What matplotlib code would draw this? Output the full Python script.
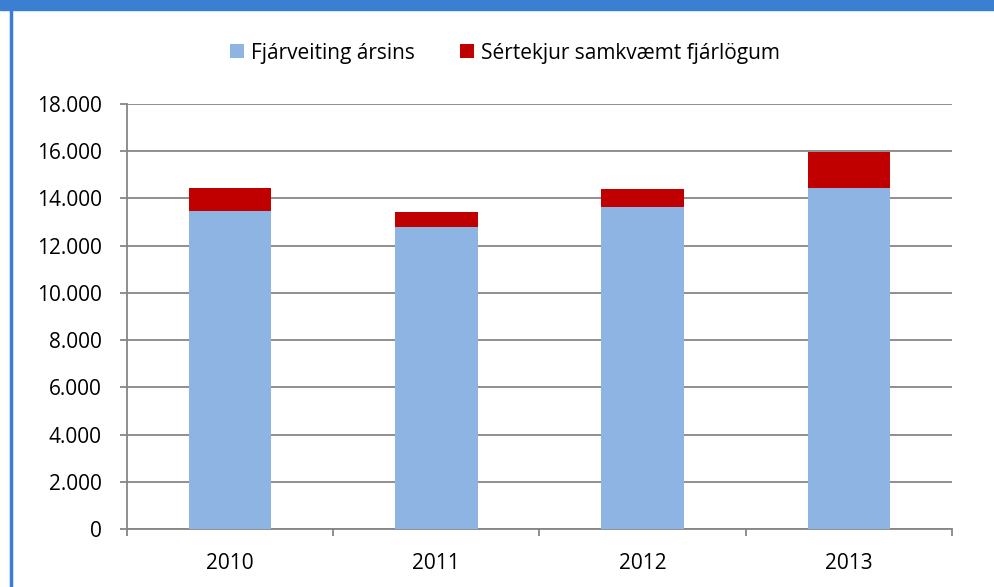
import matplotlib.pyplot as plt
from matplotlib.patches import Rectangle
from matplotlib.lines import Line2D
import numpy as np

plt.rcParams['font.family'] = ['Open Sans', 'DejaVu Sans']

# -------------------------
# Data
# -------------------------
years = ["2010", "2011", "2012", "2013"]
fjarveiting = [13480, 12780, 13640, 14440]
sertekjur = [980, 660, 760, 1540]
yticks = [0, 2000, 4000, 6000, 8000, 10000, 12000, 14000, 16000, 18000]
ytick_labels = ["0", "2.000", "4.000", "6.000", "8.000", "10.000",
                "12.000", "14.000", "16.000", "18.000"]

blue = "#8EB4E3"
red = "#C00000"
grid_col = "#868686"

fig = plt.figure(figsize=(9.95, 5.87), dpi=100)
ax = fig.add_axes([0.1276, 0.0988, 0.8292, 0.7240])

x = np.arange(len(years))
ax.bar(x, fjarveiting, width=0.4, color=blue, label="Fjárveiting ársins", zorder=3)
ax.bar(x, sertekjur, width=0.4, bottom=fjarveiting, color=red,
       label="Sértekjur samkvæmt fjárlögum", zorder=3)

ax.set_xlim(-0.5, 3.5)
ax.set_ylim(0, 18000)
ax.set_yticks(yticks)
ax.set_yticklabels(ytick_labels)
ax.yaxis.grid(True, color=grid_col, linewidth=1.3)
ax.set_axisbelow(True)

# category labels centred, tick marks between categories
ax.set_xticks(x)
ax.set_xticklabels(years)
ax.set_xticks(np.arange(-0.5, 4.0, 1.0), minor=True)
ax.tick_params(axis="x", which="major", length=0, pad=17, labelsize=15)
ax.tick_params(axis="x", which="minor", length=5, width=1.3, color=grid_col, direction="out")
ax.tick_params(axis="y", length=5, width=1.3, color=grid_col, pad=13, labelsize=15)

for s in ["top", "right"]:
    ax.spines[s].set_visible(False)
for s in ["left", "bottom"]:
    ax.spines[s].set_color(grid_col)
    ax.spines[s].set_linewidth(1.3)

ax.legend(loc="center", bbox_to_anchor=(0.458, 1.12), ncol=2, frameon=False,
          fontsize=15, handlelength=0.67, handleheight=0.67, handletextpad=0.34,
          columnspacing=2.15)

# blue frame: top band and left edge
fig.patches.append(Rectangle((0, 1 - 10 / 587), 1, 10 / 587, transform=fig.transFigure,
                             color="#3A7FD1", zorder=0))
fig.lines.append(Line2D([11 / 995, 11 / 995], [0, 1], transform=fig.transFigure,
                        color="#3A7FD1", linewidth=2.5))

fig.savefig("out.png", dpi=100)
